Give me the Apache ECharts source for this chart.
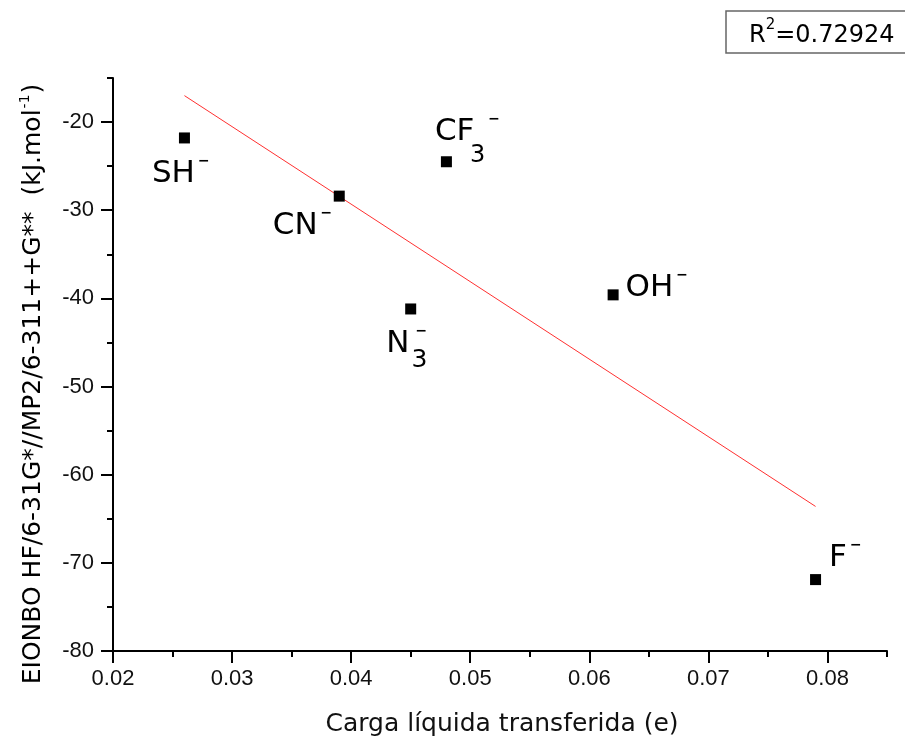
<!DOCTYPE html>
<html>
<head>
<meta charset="utf-8">
<script src="https://cdn.jsdelivr.net/npm/echarts@6/dist/echarts.min.js"></script>
<style>html,body{margin:0;padding:0;background:#fff;}#c{width:905px;height:740px;}</style>
</head>
<body>
<div id="c"></div>
<script>
// ---- data ----
var ionBase = ['SH', 'CN', 'N', 'CF', 'OH', 'F'];
var ionSub = ['', '', '3', '3', '', ''];
var chargeX = [0.026, 0.039, 0.045, 0.048, 0.062, 0.079];
var energyY = [-21.8, -28.4, -41.2, -24.5, -39.6, -71.9];
var fitX = [0.026, 0.079];
var fitY = [-17.0, -63.6];
var xTicks = [0.02, 0.03, 0.04, 0.05, 0.06, 0.07, 0.08];
var yTicks = [-80, -70, -60, -50, -40, -30, -20];
var r2Text = '0.72924';

// ---- layout (style only) ----
var labelPos = [[-27, 22], [-61, 16], [-19, 21], [-6, -44], [18, -21], [19, -36]];
var mainStyle = ['m', 'm', 'm', 'mc', 'm', 'm'];
var subStyle = ['', '', 'bn', 'bc', '', ''];
var supStyle = ['s', 's', 'sn', 's', 's', 's'];
var FONT = 'DejaVu Sans';
var TICKFONT = 'Liberation Sans';

var chart = echarts.init(document.getElementById('c'), null, {renderer: 'canvas'});

var points = chargeX.map(function (x, i) {
  var sub = ionSub[i];
  var txt = '{' + mainStyle[i] + '|' + ionBase[i] + '}' +
    (sub ? '{' + subStyle[i] + '|' + sub + '}' : '') +
    '{' + supStyle[i] + '|−}';
  return {
    value: [x, energyY[i]],
    label: {show: true, position: labelPos[i], formatter: txt}
  };
});
var fitLine = fitX.map(function (x, i) { return [x, fitY[i]]; });

var richLabel = {
  m: {fontSize: 31, lineHeight: 31, verticalAlign: 'top', fontFamily: FONT, color: '#000', padding: [4, 0, 0, 0]},
  mc: {fontSize: 31, lineHeight: 31, verticalAlign: 'top', fontFamily: FONT, color: '#000', padding: [4, 0, 0, 0], width: 35},
  s: {fontSize: 14, lineHeight: 10, verticalAlign: 'top', fontFamily: FONT, color: '#000', fontWeight: 'bold', padding: [0, 0, 0, 3]},
  sn: {fontSize: 14, lineHeight: 10, verticalAlign: 'top', fontFamily: FONT, color: '#000', fontWeight: 'bold', padding: [0, 0, 0, 1]},
  bc: {fontSize: 24, lineHeight: 25, verticalAlign: 'top', fontFamily: FONT, color: '#000', padding: [32, 0, 0, 0]},
  bn: {fontSize: 25, lineHeight: 25, verticalAlign: 'top', fontFamily: FONT, color: '#000', padding: [24, 0, 0, 2], width: 3}
};

var axisCommon = {
  axisLine: {show: true, onZero: false, lineStyle: {color: '#000', width: 2}},
  splitLine: {show: false}
};

var option = {
  backgroundColor: '#fff',
  animation: false,
  grid: {left: 113, right: 18, top: 78, bottom: 89, containLabel: false},
  xAxis: [
    Object.assign({
      type: 'value', min: 0.02, max: 0.085, interval: 0.005, position: 'bottom',
      axisTick: {show: true, inside: false, length: 6, lineStyle: {color: '#000', width: 2}},
      axisLabel: {
        margin: 17, fontSize: 22, fontFamily: TICKFONT, color: '#111',
        formatter: function (v) {
          return Math.abs(v * 100 - Math.round(v * 100)) < 1e-6 ? v.toFixed(2) : '';
        }
      }
    }, axisCommon),
    {
      type: 'value', min: 0.02, max: 0.085, position: 'bottom', gridIndex: 0,
      axisLine: {show: false}, splitLine: {show: false},
      axisLabel: {show: false},
      axisTick: {show: true, length: 12, customValues: xTicks, lineStyle: {color: '#000', width: 2}}
    }
  ],
  yAxis: [
    Object.assign({
      type: 'value', min: -80, max: -15, interval: 5, position: 'left',
      axisTick: {show: true, inside: false, length: 6, lineStyle: {color: '#000', width: 2}},
      axisLabel: {
        margin: 19, fontSize: 22, fontFamily: TICKFONT, color: '#111',
        formatter: function (v) { return (Math.round(v) % 10 === 0) ? String(v) : ''; }
      }
    }, axisCommon),
    {
      type: 'value', min: -80, max: -15, position: 'left', offset: 0, gridIndex: 0,
      axisLine: {show: false}, splitLine: {show: false},
      axisLabel: {show: false},
      axisTick: {show: true, length: 12, customValues: yTicks, lineStyle: {color: '#000', width: 2}}
    }
  ],
  series: [
    {
      type: 'line', data: fitLine, xAxisIndex: 0, yAxisIndex: 0,
      showSymbol: false, symbol: 'none', silent: true,
      lineStyle: {color: '#ff3030', width: 1}, z: 2
    },
    {
      type: 'scatter', data: points, xAxisIndex: 0, yAxisIndex: 0,
      symbol: 'rect', symbolSize: 11,
      itemStyle: {color: '#000', opacity: 1},
      label: {show: true, align: 'left', verticalAlign: 'top', color: '#000', rich: richLabel},
      z: 3
    }
  ],
  graphic: [
    {
      type: 'text', x: 502, y: 724,
      style: {
        text: 'Carga líquida transferida (e)',
        font: '25px "DejaVu Sans"', fill: '#111', align: 'center', verticalAlign: 'middle'
      }
    },
    {
      type: 'text', x: 32, y: 384, rotation: Math.PI / 2,
      style: {
        text: '{a|EIONBO HF/6-31G*//MP2/6-311++G**  (kJ.mol}{p|-1}{a|)}',
        align: 'center', verticalAlign: 'middle',
        rich: {
          a: {fontSize: 25, lineHeight: 27, fontFamily: FONT, color: '#111', verticalAlign: 'bottom'},
          p: {fontSize: 14, lineHeight: 14, fontFamily: FONT, color: '#111', verticalAlign: 'top', padding: [0, 1, 0, 1]}
        }
      }
    },
    {
      type: 'rect', shape: {x: 726, y: 11, width: 180, height: 42},
      style: {fill: '#fff', stroke: '#666', lineWidth: 1.5}
    },
    {
      type: 'text', x: 749, y: 18,
      style: {
        text: '{a|R}{p|2}{a|=' + r2Text + '}',
        align: 'left', verticalAlign: 'top',
        rich: {
          a: {fontSize: 24, lineHeight: 30, fontFamily: FONT, color: '#111', verticalAlign: 'bottom'},
          p: {fontSize: 15, lineHeight: 15, fontFamily: FONT, color: '#111', verticalAlign: 'top'}
        }
      }
    }
  ]
};
chart.setOption(option);
</script>
</body>
</html>
